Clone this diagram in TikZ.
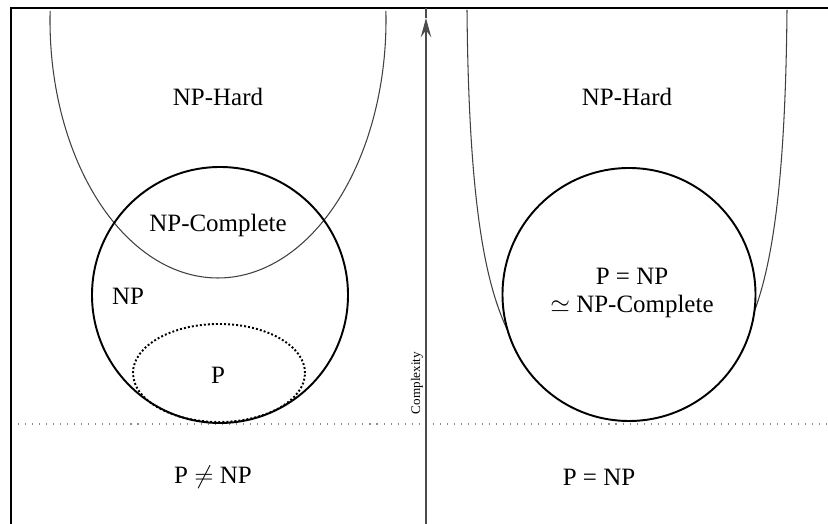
\documentclass[tikz,border=0pt]{standalone}
\usepackage{fontspec}
\setmainfont{Liberation Serif}
\usetikzlibrary{arrows.meta}

\begin{document}
\begin{tikzpicture}[x=1cm,y=1cm,
  big/.style={font=\fontsize{14.2}{16.2}\selectfont},
  setline/.style={line width=1.1pt},
  hardline/.style={line width=0.6pt,black!75},
  guide/.style={black!45,line width=0.8pt,dash pattern=on 0.6pt off 3.4pt}]
  \useasboundingbox (0,0) rectangle (16.56,10.48);
  \coordinate (tl) at (0.22,10.32);
  \coordinate (tr) at (16.56,10.32);
  \coordinate (bl) at (0.22,0);
  \coordinate (gl) at (0.36,2.0);
  \coordinate (gr) at (16.56,2.0);
  \coordinate (axb) at (8.52,0);
  \coordinate (axt) at (8.52,10.12);
  \draw[line width=1.1pt] (bl) -- (tl) -- (tr);
  \draw[guide] (gl) -- (gr);
  \draw[black!70,line width=1pt,-{Stealth[length=11pt,width=6pt,inset=4pt]}] (axb) -- (axt);
  \draw[black!70,line width=1pt] (axt) -- (axt |- tl);
  \node[rotate=90,font=\fontsize{7.5}{9}\selectfont] (cplx) at (8.34,2.82) {Complexity};

  \draw[hardline] (4.36,10.08) ++(178:3.36 and 5.16) arc[start angle=178,end angle=362,x radius=3.36,y radius=5.16];
  \draw[setline,dash pattern=on 1.1pt off 1.2pt] (4.38,3.02) ellipse (1.72 and 0.98);
  \draw[setline] (4.40,4.58) circle (2.56);
  \node[big] (hardL) at (4.36,8.54) {NP-Hard};
  \node[big] (npc) at (4.36,5.96) {NP-Complete};
  \node[big] (np) at (2.56,4.56) {NP};
  \node[big] (p) at (4.36,2.98) {P};
  \node[big] (neq) at (4.26,0.94) {P $\neq$ NP};

  \draw[hardline] (9.34,10.28) .. controls (9.38,5.88) and (9.80,4.48) .. (10.30,3.58)
    .. controls (10.80,2.68) and (12.00,2.48) .. (12.54,2.48)
    .. controls (13.08,2.48) and (14.28,2.68) .. (14.78,3.58)
    .. controls (15.28,4.48) and (15.70,5.88) .. (15.74,10.28);
  \draw[setline,fill=white] (12.58,4.59) circle (2.53);
  \node[big] (hardR) at (12.54,8.54) {NP-Hard};
  \node[big,align=center] (peqnp) at (12.64,4.62) {P = NP\\$\simeq$ NP-Complete};
  \node[big] (eq) at (11.98,0.94) {P = NP};
\end{tikzpicture}
\end{document}
